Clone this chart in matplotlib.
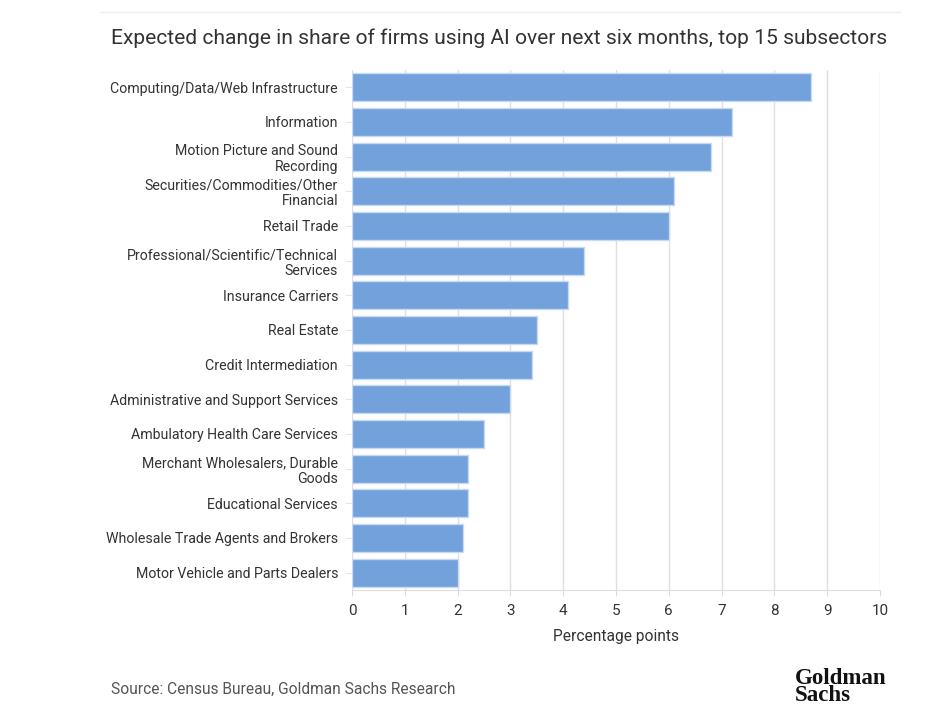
import matplotlib
matplotlib.use("Agg")
import matplotlib.pyplot as plt
import numpy as np

# data
subsectors = [
    "Computing/Data/Web Infrastructure",
    "Information",
    "Motion Picture and Sound\nRecording",
    "Securities/Commodities/Other\nFinancial",
    "Retail Trade",
    "Professional/Scientific/Technical\nServices",
    "Insurance Carriers",
    "Real Estate",
    "Credit Intermediation",
    "Administrative and Support Services",
    "Ambulatory Health Care Services",
    "Merchant Wholesalers, Durable\nGoods",
    "Educational Services",
    "Wholesale Trade Agents and Brokers",
    "Motor Vehicle and Parts Dealers",
]
change_pp = [8.7, 7.2, 6.8, 6.1, 6.0, 4.4, 4.1, 3.5, 3.4, 3.0, 2.5, 2.2, 2.2, 2.1, 2.0]
x_ticks = list(range(0, 11))

plt.rcParams['font.family'] = ['Roboto', 'DejaVu Sans']

fig = plt.figure(figsize=(9.28, 7.25), dpi=100)
ax = fig.add_axes([352/928, 1 - 590/725, (880-352)/928, (590-70)/725])

y = np.arange(len(subsectors))
ax.barh(y, change_pp, height=0.8, color='#72a1db', edgecolor='#c8daf3',
        linewidth=1, zorder=3)

ax.set_ylim(len(subsectors) - 0.5, -0.5)
ax.set_xlim(0, 10)
ax.set_xticks(x_ticks)
ax.set_yticks(y)
ax.set_yticklabels(subsectors, fontsize=10.2, color='#333333', linespacing=1.15)
ax.tick_params(axis='x', labelsize=11, colors='#333333', length=4, color='#dddddd', pad=6)
ax.tick_params(axis='y', length=5, color='#e6e6e6', pad=5)

ax.grid(axis='x', color='#e0e0e0', linewidth=1, zorder=0)
for s in ['top', 'right', 'left']:
    ax.spines[s].set_visible(False)
ax.spines['bottom'].set_color('#dddddd')

ax.set_xlabel("Percentage points", fontsize=11.2, color='#333333', labelpad=8)

fig.text(111/928, 1 - 38/725, "Expected change in share of firms using AI over next six months, top 15 subsectors",
         fontsize=15.1, color='#333333', va='center', ha='left')
fig.add_artist(plt.Line2D([100/928, 900/928], [1 - 12/725, 1 - 12/725],
                          color='#eeeeee', linewidth=1))

fig.text(111/928, 1 - 689/725, "Source: Census Bureau, Goldman Sachs Research",
         fontsize=11.2, color='#555555', va='center', ha='left')
fig.text(795/928, 1 - 687/725, "Goldman\nSachs", fontsize=16.5, fontweight='bold',
         family='Liberation Serif', color='#111111', va='center', ha='left',
         linespacing=0.8)

fig.savefig("out.png", dpi=100)
